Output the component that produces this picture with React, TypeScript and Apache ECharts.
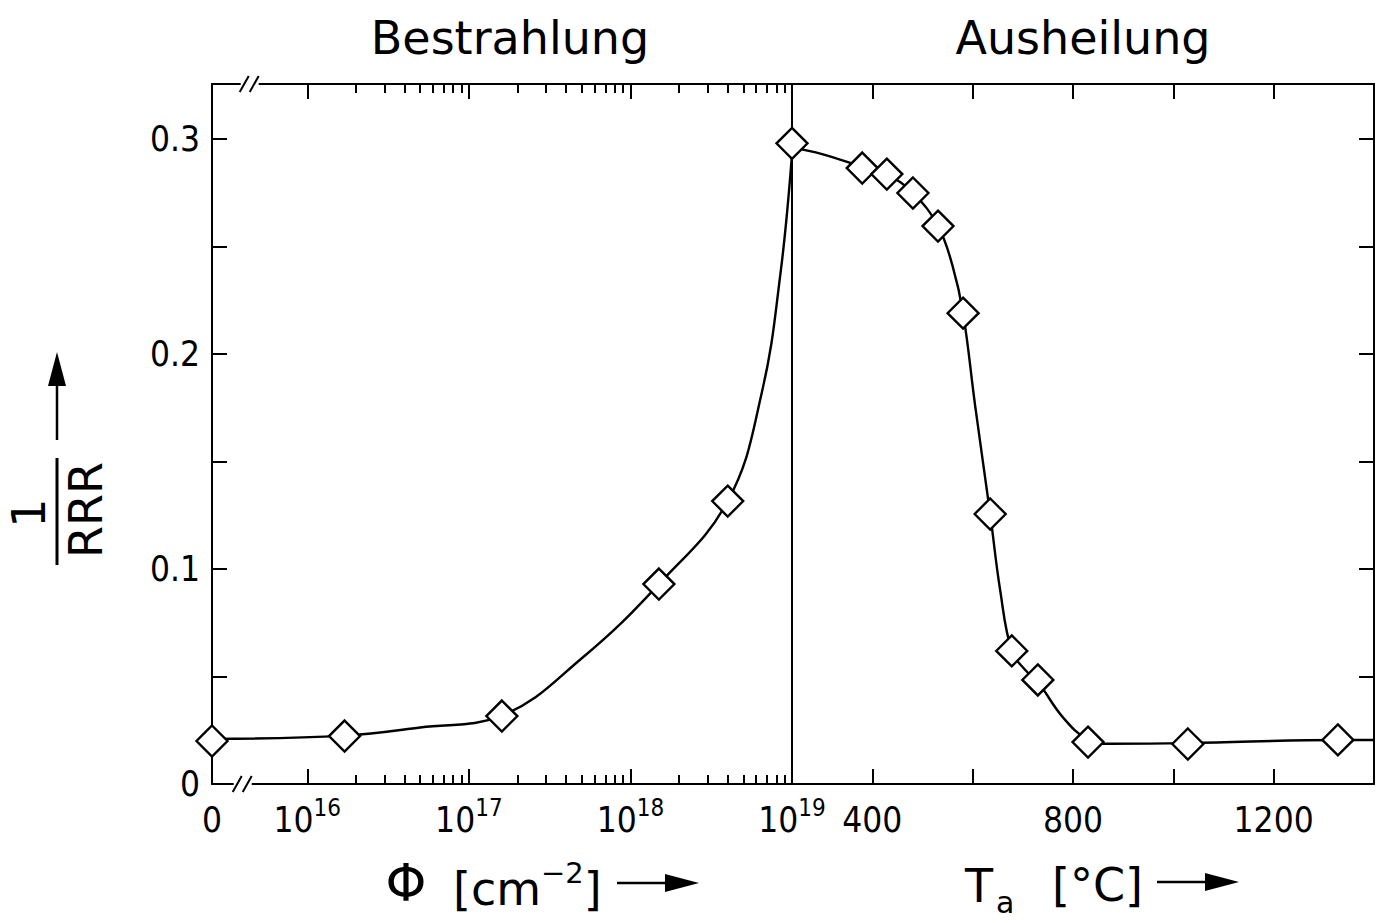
import React, { useEffect, useRef } from "react";
import * as echarts from "echarts";

// Irradiation: fluence Φ [cm^-2] vs 1/RRR (Φ = 0 is the unirradiated state)
const fluence = [0, 1.7e16, 1.6e17, 1.5e18, 4e18, 1e19];
const fluenceRRR = [0.02, 0.0223, 0.0316, 0.093, 0.1316, 0.298];

// Isochronal annealing: temperature Ta [°C] vs 1/RRR
const annealT = [380, 429, 481, 531, 581, 635, 678, 730, 830, 1029, 1328];
const annealRRR = [0.2865, 0.2837, 0.2749, 0.2595, 0.219, 0.1256, 0.0619, 0.0484, 0.0195, 0.0186, 0.0205];

// Hand-drawn guide curves through the measurements
const fluenceCurvePhi = [0, 1.7e16, 5e16, 1.6e17, 5e17, 1.5e18, 4e18, 6.5e18, 8.5e18, 1e19];
const fluenceCurveRRR = [0.021, 0.0225, 0.0263, 0.0318, 0.0585, 0.093, 0.1316, 0.182, 0.238, 0.293];
const annealCurveT = [240, 300, 380, 429, 481, 531, 560, 581, 605, 635, 655, 678, 705, 730, 780, 830, 870, 1030, 1330, 1400];
const annealCurveRRR = [0.296, 0.293, 0.287, 0.2835, 0.275, 0.2595, 0.241, 0.219, 0.176, 0.1256, 0.09, 0.0619, 0.053, 0.0474, 0.031, 0.0205, 0.0187, 0.019, 0.0205, 0.0205];

// Axis ticks and labels
const yTicks = [0.05, 0.1, 0.15, 0.2, 0.25, 0.3];
const yLabels = [0, 0.1, 0.2, 0.3];
const phiMajor = [1e16, 1e17, 1e18, 1e19];
const phiMinorFactors = [2, 3, 4, 5, 6, 7, 8, 9];
const phiMinorDecades = [1e16, 1e17, 1e18];
const tempTicks = [400, 600, 800, 1000, 1200];
const tempLabels = [400, 800, 1200];

const PHI_MIN = Math.pow(10, 15.41); // left edge of the broken fluence axis (Φ = 0)
const PHI_MAX = 1e19;
const PHI_BREAK = Math.pow(10, 15.6);
const T_MIN = 240;
const T_MAX = 1400;
const Y_MAX = 0.3256;

const W = 1379;
const H = 923;
const GRID_L = 212;
const GRID_MID = 792;
const GRID_R = 1374;
const GRID_T = 84;
const GRID_B = 784;

const TICK_FONT = "'Liberation Sans Narrow', 'DejaVu Sans Condensed', 'DejaVu Sans', sans-serif";
const TITLE_FONT = "'DejaVu Sans', sans-serif";
const INK = "#000";

const phiMinor: number[] = [];
phiMinorDecades.forEach((d) => phiMinorFactors.forEach((k) => phiMinor.push(k * d)));

const lineStyle = { color: INK, width: 2 };
const curveStyle = { color: INK, width: 2.4 };

// base digits sit 12px below the top of the label box, exponents at its top
const tickRich = {
  b: { fontFamily: TICK_FONT, fontSize: 35, lineHeight: 35, color: INK, padding: [12, 0, 0, 0] },
  s: { fontFamily: TICK_FONT, fontSize: 24, lineHeight: 24, color: INK, verticalAlign: "top" },
};

function phiLabel(v: number): string {
  const lg = Math.log10(v);
  if (lg < 15.8) return "{b|0}";
  return `{b|10}{s|${Math.round(lg)}}`;
}

function buildOption(): any {
  const logAxis = (position: "top" | "bottom", major: boolean, labels: boolean) => ({
    type: "log",
    logBase: 10,
    gridIndex: 0,
    min: PHI_MIN,
    max: PHI_MAX,
    position,
    splitLine: { show: false },
    minorTick: { show: false },
    axisLine: { show: major, onZero: false, lineStyle },
    axisTick: {
      show: true,
      inside: true,
      length: major ? 15 : 9,
      customValues: major ? phiMajor.map((v) => v * 0.99999) : phiMinor,
      lineStyle,
    },
    axisLabel: labels
      ? {
          show: true,
          margin: 12,
          customValues: [PHI_MIN * 1.0001, ...phiMajor.map((v) => v * 0.99999)],
          formatter: phiLabel,
          rich: tickRich,
        }
      : { show: false },
  });

  const tempAxis = (position: "top" | "bottom", labels: boolean) => ({
    type: "value",
    gridIndex: 1,
    min: T_MIN,
    max: T_MAX,
    position,
    splitLine: { show: false },
    axisLine: { show: true, onZero: false, lineStyle },
    axisTick: { show: true, inside: true, length: 15, customValues: tempTicks, lineStyle },
    axisLabel: labels
      ? { show: true, margin: 12, customValues: tempLabels, formatter: (v: number) => `{b|${v}}`, rich: tickRich }
      : { show: false },
  });

  const yAxis = (gridIndex: number, position: "left" | "right", ticks: boolean, labels: boolean) => ({
    type: "value",
    gridIndex,
    min: 0,
    max: Y_MAX,
    position,
    splitLine: { show: false },
    axisLine: { show: true, onZero: false, lineStyle },
    axisTick: { show: ticks, inside: true, length: 15, customValues: yTicks, lineStyle },
    axisLabel: labels
      ? {
          show: true,
          margin: 12,
          customValues: yLabels,
          fontFamily: TICK_FONT,
          fontSize: 35,
          color: INK,
          formatter: (v: number) => (v === 0 ? "0" : v.toFixed(1)),
        }
      : { show: false },
  });

  const markerStyle = { color: "#fff", borderColor: INK, borderWidth: 2.4, opacity: 1 };

  const curve = (xAxisIndex: number, yAxisIndex: number, data: number[][]) => ({
    type: "line",
    xAxisIndex,
    yAxisIndex,
    data,
    smooth: 0.4,
    symbol: "none",
    lineStyle: curveStyle,
    silent: true,
    z: 2,
  });

  const markers = (xAxisIndex: number, yAxisIndex: number, data: number[][]) => ({
    type: "scatter",
    xAxisIndex,
    yAxisIndex,
    data,
    symbol: "diamond",
    symbolSize: 31,
    itemStyle: markerStyle,
    clip: false,
    silent: true,
    z: 3,
  });

  return {
    animation: false,
    backgroundColor: "#fff",
    grid: [
      { left: GRID_L, right: W - GRID_MID, top: GRID_T, bottom: H - GRID_B, containLabel: false },
      { left: GRID_MID, right: W - GRID_R, top: GRID_T, bottom: H - GRID_B, containLabel: false },
    ],
    xAxis: [
      logAxis("bottom", true, true),
      logAxis("bottom", false, false),
      logAxis("top", true, false),
      logAxis("top", false, false),
      tempAxis("bottom", true),
      tempAxis("top", false),
    ],
    yAxis: [yAxis(0, "left", true, true), yAxis(1, "left", false, false), yAxis(1, "right", true, false)],
    series: [
      curve(0, 0, fluenceCurvePhi.map((p, i) => [p === 0 ? PHI_MIN : p, fluenceCurveRRR[i]])),
      markers(0, 0, fluence.map((p, i) => [p === 0 ? PHI_MIN : p, fluenceRRR[i]])),
      curve(4, 1, annealCurveT.map((t, i) => [t, annealCurveRRR[i]])),
      markers(4, 1, annealT.map((t, i) => [t, annealRRR[i]])),
    ],
  };
}

function text(x: number, y: number, str: string, size: number, extra: any = {}) {
  const align = extra.align || "center";
  return {
    type: "text",
    x,
    y,
    z: 10,
    rotation: extra.rotation || 0,
    style: {
      text: str,
      font: `${size}px ${TITLE_FONT}`,
      fill: INK,
      align,
      textAlign: align,
      verticalAlign: "middle",
      textVerticalAlign: "middle",
    },
  };
}

function arrowRight(x1: number, x2: number, y: number) {
  return [
    { type: "line", z: 10, shape: { x1, y1: y, x2: x2 - 30, y2: y }, style: { stroke: INK, lineWidth: 2.5 } },
    {
      type: "polygon",
      z: 10,
      shape: { points: [[x2 - 34, y - 9], [x2, y], [x2 - 34, y + 9]] },
      style: { fill: INK },
    },
  ];
}

function axisBreak(cx: number, cy: number) {
  return [
    { type: "rect", z: 20, shape: { x: cx - 9, y: cy - 4, width: 18, height: 8 }, style: { fill: "#fff" } },
    { type: "line", z: 21, shape: { x1: cx - 10, y1: cy + 8, x2: cx - 1, y2: cy - 8 }, style: { stroke: INK, lineWidth: 2 } },
    { type: "line", z: 21, shape: { x1: cx, y1: cy + 8, x2: cx + 9, y2: cy - 8 }, style: { stroke: INK, lineWidth: 2 } },
  ];
}

export default function App() {
  const ref = useRef<HTMLDivElement>(null);

  useEffect(() => {
    const el = ref.current;
    if (!el) return;
    const chart = echarts.init(el, undefined, { renderer: "svg" });
    chart.setOption(buildOption());

    const bx = chart.convertToPixel({ xAxisIndex: 0 }, PHI_BREAK) as number;

    const graphic: any[] = [
      text(510, 38, "Bestrahlung", 46),
      text(1083, 38, "Ausheilung", 46),
      // y-axis title: 1/RRR with arrow
      text(29, 513, "1", 46, { rotation: Math.PI / 2 }),
      { type: "line", z: 10, shape: { x1: 57, y1: 458, x2: 57, y2: 565 }, style: { stroke: INK, lineWidth: 3 } },
      text(86, 510, "RRR", 46, { rotation: Math.PI / 2 }),
      { type: "line", z: 10, shape: { x1: 57, y1: 440, x2: 57, y2: 382 }, style: { stroke: INK, lineWidth: 2.5 } },
      { type: "polygon", z: 10, shape: { points: [[57, 352], [48, 386], [66, 386]] }, style: { fill: INK } },
      // fluence axis title
      text(406, 883, "Φ", 52),
      {
        type: "text",
        x: 453,
        y: 885,
        z: 10,
        style: {
          text: "{b|[cm}{s|−2}{b|]}",
          align: "left",
          textAlign: "left",
          verticalAlign: "middle",
          textVerticalAlign: "middle",
          rich: {
            b: { font: `46px ${TITLE_FONT}`, fill: INK, lineHeight: 54, verticalAlign: "bottom" },
            s: { font: `29px ${TITLE_FONT}`, fill: INK, lineHeight: 29, verticalAlign: "top" },
          },
        },
      },
      ...arrowRight(617, 699, 883),
      // annealing temperature axis title
      text(965, 886, "T", 46, { align: "left" }),
      text(996, 902, "a", 30, { align: "left" }),
      text(1052, 885, "[°C]", 46, { align: "left" }),
      ...arrowRight(1157, 1239, 882),
      // broken fluence axis (bottom and top)
      ...axisBreak(bx, GRID_B),
      ...axisBreak(bx + 7, GRID_T),
    ];
    chart.setOption({ graphic });

    return () => chart.dispose();
  }, []);

  return (
    <div
      ref={ref}
      style={{ position: "fixed", left: 0, top: 0, width: W, height: H, background: "#fff" }}
    />
  );
}
